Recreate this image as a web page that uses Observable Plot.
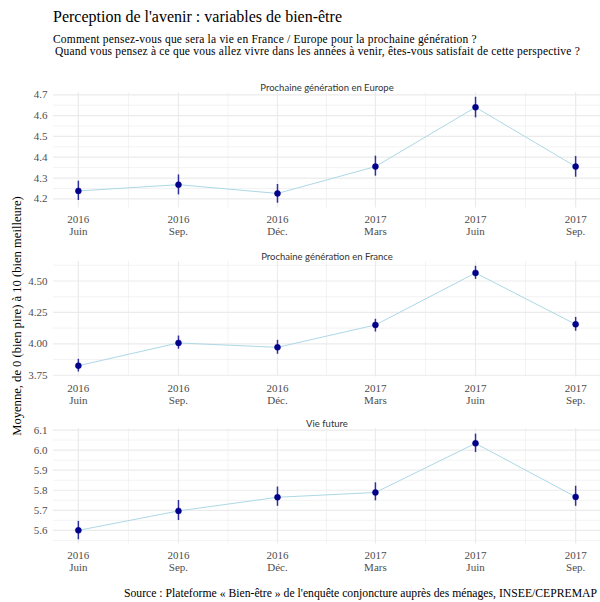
<!DOCTYPE html>
<html><head><meta charset="utf-8">
<script src="https://cdn.jsdelivr.net/npm/d3@7"></script>
<script src="https://cdn.jsdelivr.net/npm/@observablehq/plot@0.6"></script>
<style>
body{margin:0;background:#fff;}
#root{position:relative;width:600px;height:602px;overflow:hidden;font-family:"Liberation Serif",serif;color:#000;}
.abs{position:absolute;white-space:nowrap;}
#title{left:53px;top:8px;font-size:16px;}
#sub1{left:53px;top:33px;font-size:11.5px;line-height:12px;letter-spacing:0.2px;}
#sub2{left:55px;top:45px;font-size:11.5px;line-height:12px;letter-spacing:0.2px;}
#caption{right:3px;top:587px;font-size:11.7px;}
#ylab{left:17px;top:316px;font-size:12.6px;transform:translate(-50%,-50%) rotate(-90deg);}
.panel{position:absolute;left:0;}
</style></head><body><div id="root">
<div id="title" class="abs">Perception de l'avenir : variables de bien-être</div>
<div id="sub1" class="abs">Comment pensez-vous que sera la vie en France / Europe pour la prochaine génération ?</div>
<div id="sub2" class="abs">Quand vous pensez à ce que vous allez vivre dans les années à venir, êtes-vous satisfait de cette perspective ?</div>
<div id="ylab" class="abs">Moyenne, de 0 (bien pire) à 10 (bien meilleure)</div>
<div id="caption" class="abs">Source : Plateforme « Bien-être » de l'enquête conjoncture auprès des ménages, INSEE/CEPREMAP</div>
</div>
<script>
const dates = ["2016-06-01","2016-09-01","2016-12-01","2017-03-01","2017-06-01","2017-09-01"];
const yearLabels = ["2016","2016","2016","2017","2017","2017"];
const monthLabels = ["Juin","Sep.","Déc.","Mars","Juin","Sep."];
const panelNames = ["Prochaine génération en Europe","Prochaine génération en France","Vie future"];

const europeMean = [4.238, 4.268, 4.226, 4.355, 4.640, 4.355];
const europeLow  = [4.192, 4.219, 4.179, 4.309, 4.589, 4.304];
const europeHigh = [4.285, 4.315, 4.269, 4.405, 4.688, 4.403];

const franceMean = [3.826, 4.007, 3.972, 4.150, 4.564, 4.155];
const franceLow  = [3.776, 3.957, 3.917, 4.094, 4.513, 4.100];
const franceHigh = [3.877, 4.062, 4.028, 4.195, 4.617, 4.210];

const vieMean = [5.600, 5.697, 5.765, 5.789, 6.034, 5.767];
const vieLow  = [5.553, 5.649, 5.720, 5.747, 5.988, 5.720];
const vieHigh = [5.645, 5.749, 5.816, 5.837, 6.080, 5.820];

const europeTicks = [4.2, 4.3, 4.4, 4.5, 4.6, 4.7];
const franceTicks = [3.75, 4.00, 4.25, 4.50];
const vieTicks = [5.6, 5.7, 5.8, 5.9, 6.0, 6.1];

const panels = [
  {name: panelNames[0], mean: europeMean, low: europeLow, high: europeHigh, ticks: europeTicks, fmt: d3.format(".1f"), domain: [4.156, 4.711], top: 92},
  {name: panelNames[1], mean: franceMean, low: franceLow, high: franceHigh, ticks: franceTicks, fmt: d3.format(".2f"), domain: [3.736, 4.655], top: 260.5},
  {name: panelNames[2], mean: vieMean, low: vieLow, high: vieHigh, ticks: vieTicks, fmt: d3.format(".1f"), domain: [5.532, 6.108], top: 427.5}
];

const root = document.getElementById("root");
const xd = dates.map(d => new Date(d));
const span = xd[xd.length - 1] - xd[0];
const xDomain = [new Date(+xd[0] - 0.05 * span), new Date(+xd[xd.length - 1] + 0.05 * span)];
const minorX = d3.pairs(xd).map(([a, b]) => new Date((+a + +b) / 2));
const panelH = 115.5, mTop = 18, mBottom = 34;
const grid = "#ebebeb";

for (const p of panels) {
  const data = xd.map((d, j) => ({date: d, mean: p.mean[j], lo: p.low[j], hi: p.high[j]}));
  const step = p.ticks[1] - p.ticks[0];
  const minorY = [p.ticks[0] - step / 2, ...p.ticks.map(t => t + step / 2)]
    .filter(v => v >= p.domain[0] && v <= p.domain[1]);
  const chart = Plot.plot({
    width: 600,
    height: mTop + panelH + mBottom,
    marginTop: mTop, marginBottom: mBottom, marginLeft: 53, marginRight: 0,
    style: {fontFamily: "Liberation Serif, serif", background: "transparent", overflow: "visible"},
    x: {type: "utc", domain: xDomain},
    y: {domain: p.domain},
    marks: [
      Plot.gridY(minorY, {stroke: grid, strokeOpacity: 1, strokeWidth: 0.6}),
      Plot.gridX(minorX, {stroke: grid, strokeOpacity: 1, strokeWidth: 0.6}),
      Plot.gridY(p.ticks, {stroke: grid, strokeOpacity: 1, strokeWidth: 1.2}),
      Plot.gridX(xd, {stroke: grid, strokeOpacity: 1, strokeWidth: 1.2}),
      Plot.axisY(p.ticks, {tickSize: 0, tickPadding: 6, tickFormat: p.fmt, fontSize: 11, fill: "#4d4d4d", label: null}),
      Plot.axisX(xd, {tickSize: 0, tickPadding: 6, fontSize: 11, fill: "#4d4d4d", label: null, lineHeight: 1.1,
        tickFormat: d => { const j = xd.findIndex(t => +t === +d); return yearLabels[j] + "\n" + monthLabels[j]; }}),
      Plot.line(data, {x: "date", y: "mean", stroke: "#ADD8E6", strokeWidth: 1}),
      Plot.ruleX(data, {x: "date", y1: "lo", y2: "hi", stroke: "#00008B", strokeWidth: 1.5, strokeOpacity: 0.8}),
      Plot.dot(data, {x: "date", y: "mean", r: 3, fill: "#00008B", stroke: "#00008B", strokeWidth: 0.5}),
      Plot.text([p.name], {frameAnchor: "top", dy: -8, fontSize: 9.5, fontFamily: "Lato, sans-serif", fill: "#333333"})
    ]
  });
  chart.classList.add("panel");
  chart.style.top = (p.top - mTop) + "px";
  root.appendChild(chart);
}
</script>
</body></html>
